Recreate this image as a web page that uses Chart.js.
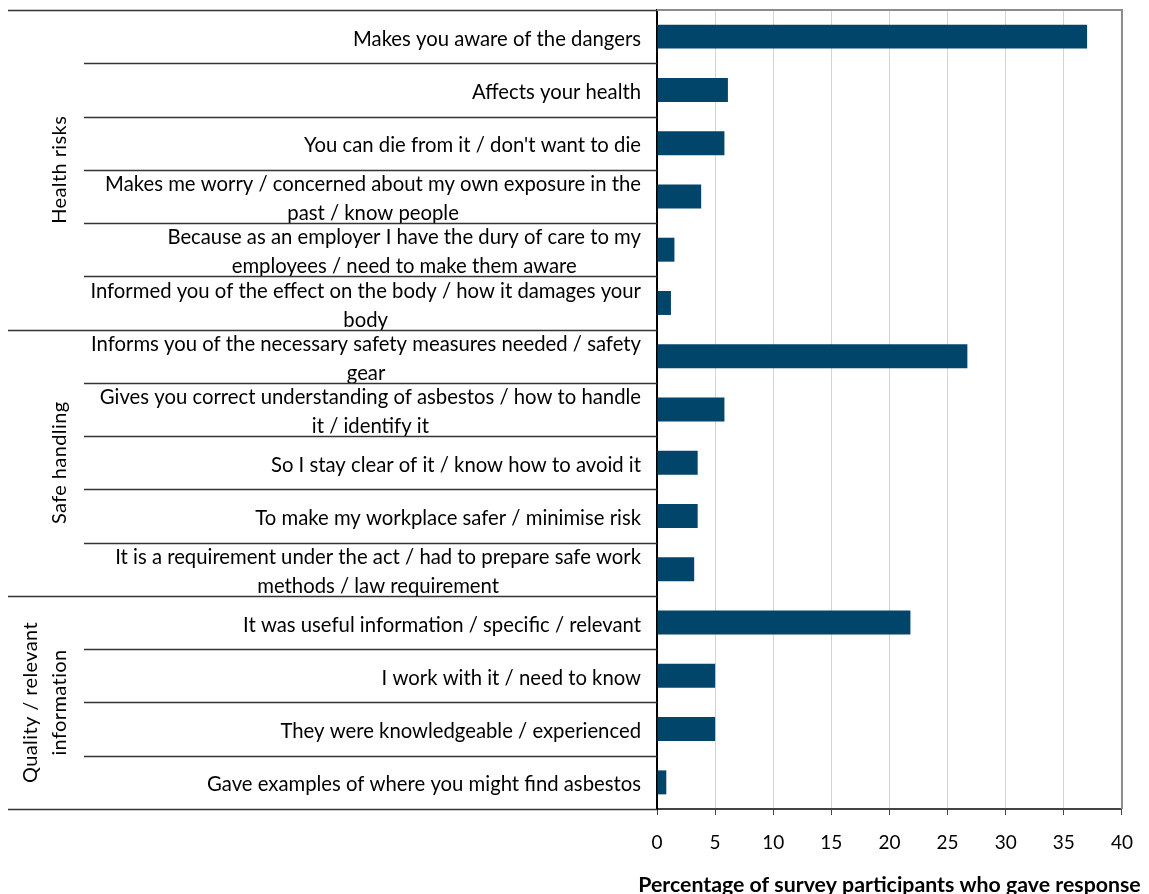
<!DOCTYPE html>
<html>
<head>
<meta charset="utf-8">
<script src="https://cdn.jsdelivr.net/npm/chart.js@4.4.1/dist/chart.umd.min.js"></script>
<style>
  body { margin: 0; background: #fff; }
  #wrap { width: 1149px; height: 894px; position: relative; }
</style>
</head>
<body>
<div id="wrap"><canvas id="myChart"></canvas></div>
<script>
// survey responses, top to bottom; an inner array is a label wrapped over two lines
const responses = [
  ["Makes you aware of the dangers"],
  ["Affects your health"],
  ["You can die from it / don't want to die"],
  ["Makes me worry / concerned about my own exposure in the", "past / know people"],
  ["Because as an employer I have the dury of care to my", "employees / need to make them aware"],
  ["Informed you of the effect on the body / how it damages your", "body"],
  ["Informs you of the necessary safety measures needed / safety", "gear"],
  ["Gives you correct understanding of asbestos / how to handle", "it / identify it"],
  ["So I stay clear of it / know how to avoid it"],
  ["To make my workplace safer / minimise risk"],
  ["It is a requirement under the act / had to prepare safe work", "methods / law requirement"],
  ["It was useful information / specific / relevant"],
  ["I work with it / need to know"],
  ["They were knowledgeable / experienced"],
  ["Gave examples of where you might find asbestos"]
];
const percentages = [37.0, 6.1, 5.8, 3.8, 1.5, 1.2, 26.7, 5.8, 3.5, 3.5, 3.2, 21.8, 5.0, 5.0, 0.8];

// response groups and how many responses fall in each
const groupNames = [["Health risks"], ["Safe handling"], ["Quality / relevant", "information"]];
const groupSizes = [6, 5, 4];

const xMin = 0;
const xMax = 40;
const xStep = 5;
const xTitle = "Percentage of survey participants who gave response";

const FONT = "Lato, 'Noto Sans', sans-serif";

// draws the response text, the row dividers, the rotated group names and the x title
const responseLabels = {
  id: "responseLabels",
  afterDraw(chart) {
    const ctx = chart.ctx;
    const yScale = chart.scales.y;
    const area = chart.chartArea;
    const labels = yScale.getLabels();
    const rowH = yScale.getPixelForValue(1) - yScale.getPixelForValue(0);
    ctx.save();

    ctx.font = "20.3px " + FONT;
    ctx.fillStyle = "#000";
    ctx.textAlign = "center";
    ctx.textBaseline = "middle";
    labels.forEach((lines, i) => {
      const cy = yScale.getPixelForValue(i) + 2.5;
      const w = Math.max(...lines.map((l) => ctx.measureText(l).width));
      const cx = area.left - 16 - w / 2;
      lines.forEach((line, k) => {
        ctx.fillText(line, cx, cy + (k - (lines.length - 1) / 2) * 29);
      });
    });

    // row dividers; the ones between groups run out to the left edge
    const groupEdges = [0];
    groupSizes.forEach((n) => groupEdges.push(groupEdges[groupEdges.length - 1] + n));
    ctx.strokeStyle = "#333";
    ctx.lineWidth = 1.5;
    for (let b = 0; b <= labels.length; b++) {
      const py = Math.round(yScale.getPixelForValue(b) - rowH / 2) + 0.5;
      const x0 = groupEdges.includes(b) ? 8 : 84;
      ctx.beginPath();
      ctx.moveTo(x0, py);
      ctx.lineTo(area.left, py);
      ctx.stroke();
    }

    // group names, rotated
    ctx.font = "20px " + FONT;
    ctx.letterSpacing = "0.4px";
    groupNames.forEach((lines, g) => {
      const first = groupEdges[g];
      const last = groupEdges[g + 1] - 1;
      const cy = (yScale.getPixelForValue(first) + yScale.getPixelForValue(last)) / 2;
      lines.forEach((line, k) => {
        const cx = 60 - (lines.length - 1 - k) * 29;
        ctx.save();
        ctx.translate(cx, cy);
        ctx.rotate(-Math.PI / 2);
        ctx.fillText(line, 0, 0);
        ctx.restore();
      });
    });
    ctx.letterSpacing = "0px";

    // x axis title, wider than the plot so it is drawn here rather than by the scale
    ctx.font = "bold 21.3px " + FONT;
    ctx.fillText(xTitle, (area.left + area.right) / 2, chart.height - 9);

    // plot frame along the top and right
    ctx.strokeStyle = "#8c8c8c";
    ctx.lineWidth = 2;
    ctx.beginPath();
    ctx.moveTo(area.left, area.top);
    ctx.lineTo(area.right, area.top);
    ctx.lineTo(area.right, area.bottom);
    ctx.stroke();
    ctx.restore();
  }
};

const ctx = document.getElementById("myChart");
const myChart = new Chart(ctx, {
  type: "bar",
  data: {
    labels: responses,
    datasets: [
      {
        data: percentages,
        backgroundColor: "#02456b",
        borderWidth: 0,
        barPercentage: 0.45,
        categoryPercentage: 1,
      },
    ],
  },
  options: {
    indexAxis: "y",
    responsive: true,
    maintainAspectRatio: false,
    animation: false,
    layout: {
      padding: { top: 10, right: 25, bottom: 0, left: 0 },
    },
    plugins: {
      legend: { display: false },
      tooltip: { enabled: false },
    },
    scales: {
      x: {
        min: xMin,
        max: xMax,
        ticks: {
          stepSize: xStep,
          color: "#000",
          padding: 16,
          font: { size: 19, family: FONT },
        },
        grid: {
          color: "#d4d4d4",
          lineWidth: 1,
          tickColor: "#444",
          tickLength: 6,
        },
        border: { color: "#444", width: 2 },
        afterFit: (scale) => {
          scale.height = 85;
        },
      },
      y: {
        ticks: { display: false },
        grid: { display: false },
        border: { color: "#000", width: 2 },
        afterFit: (scale) => {
          scale.width = 657;
        },
      },
    },
  },
  plugins: [responseLabels],
});
</script>
</body>
</html>
